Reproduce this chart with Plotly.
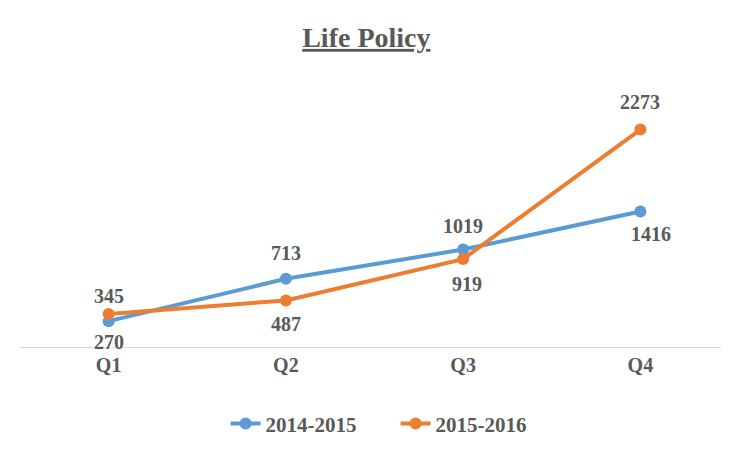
import plotly.graph_objects as go

quarters = ["Q1", "Q2", "Q3", "Q4"]
policies_2014_2015 = [270, 713, 1019, 1416]
policies_2015_2016 = [345, 487, 919, 2273]

# label offsets from the marker, in pixels (positive = above)
shift_2014_2015 = [-21, 26, 24, -22]
shift_2015_2016 = [18, -24, -25, 28]
xshift_2014_2015 = [0, 0, 0, 11]
xshift_2015_2016 = [0, 0, 4, 0]

FONT = "Liberation Serif, Times New Roman, serif"
TEXT_COLOR = "#595959"
LABEL_FONT = dict(family=FONT, size=20, color=TEXT_COLOR, weight="bold")

# page body has an 8px default margin, so the figure is 8px smaller
fig = go.Figure()
fig.add_trace(
    go.Scatter(
        x=quarters,
        y=policies_2014_2015,
        mode="lines+markers",
        name="2014-2015",
        line=dict(color="#5B9BD5", width=4),
        marker=dict(size=12, color="#5B9BD5"),
        cliponaxis=False,
    )
)
fig.add_trace(
    go.Scatter(
        x=quarters,
        y=policies_2015_2016,
        mode="lines+markers",
        name="2015-2016",
        line=dict(color="#ED7D31", width=4),
        marker=dict(size=12, color="#ED7D31"),
        cliponaxis=False,
    )
)

for values, yshifts, xshifts in [
    (policies_2014_2015, shift_2014_2015, xshift_2014_2015),
    (policies_2015_2016, shift_2015_2016, xshift_2015_2016),
]:
    for q, v, ys, xs in zip(quarters, values, yshifts, xshifts):
        fig.add_annotation(
            x=q,
            y=v,
            text=f"<b>{v}</b>",
            showarrow=False,
            xanchor="center",
            yanchor="middle",
            yshift=ys,
            xshift=xs,
            font=LABEL_FONT,
        )

fig.update_layout(
    width=721,
    height=448,
    paper_bgcolor="white",
    plot_bgcolor="white",
    font=dict(family=FONT, color=TEXT_COLOR),
    title=dict(
        text="<b><u>Life Policy</u></b>",
        x=0.497,
        xanchor="center",
        y=0.935,
        yanchor="middle",
        font=dict(family=FONT, size=28, color=TEXT_COLOR),
    ),
    margin=dict(l=12, r=0, t=52, b=109),
    showlegend=True,
    legend=dict(
        orientation="h",
        x=0.29,
        xanchor="left",
        y=-0.268,
        yanchor="middle",
        entrywidth=125,
        font=dict(family=FONT, size=21, color=TEXT_COLOR, weight="bold"),
    ),
    xaxis=dict(
        range=[-0.5, 3.5],
        showline=True,
        linecolor="#d9d9d9",
        linewidth=1,
        showgrid=False,
        ticks="",
        tickfont=LABEL_FONT,
        fixedrange=True,
    ),
    yaxis=dict(
        range=[0, 3000],
        showgrid=False,
        zeroline=False,
        showticklabels=False,
        fixedrange=True,
    ),
)

fig.write_html("out.html")
